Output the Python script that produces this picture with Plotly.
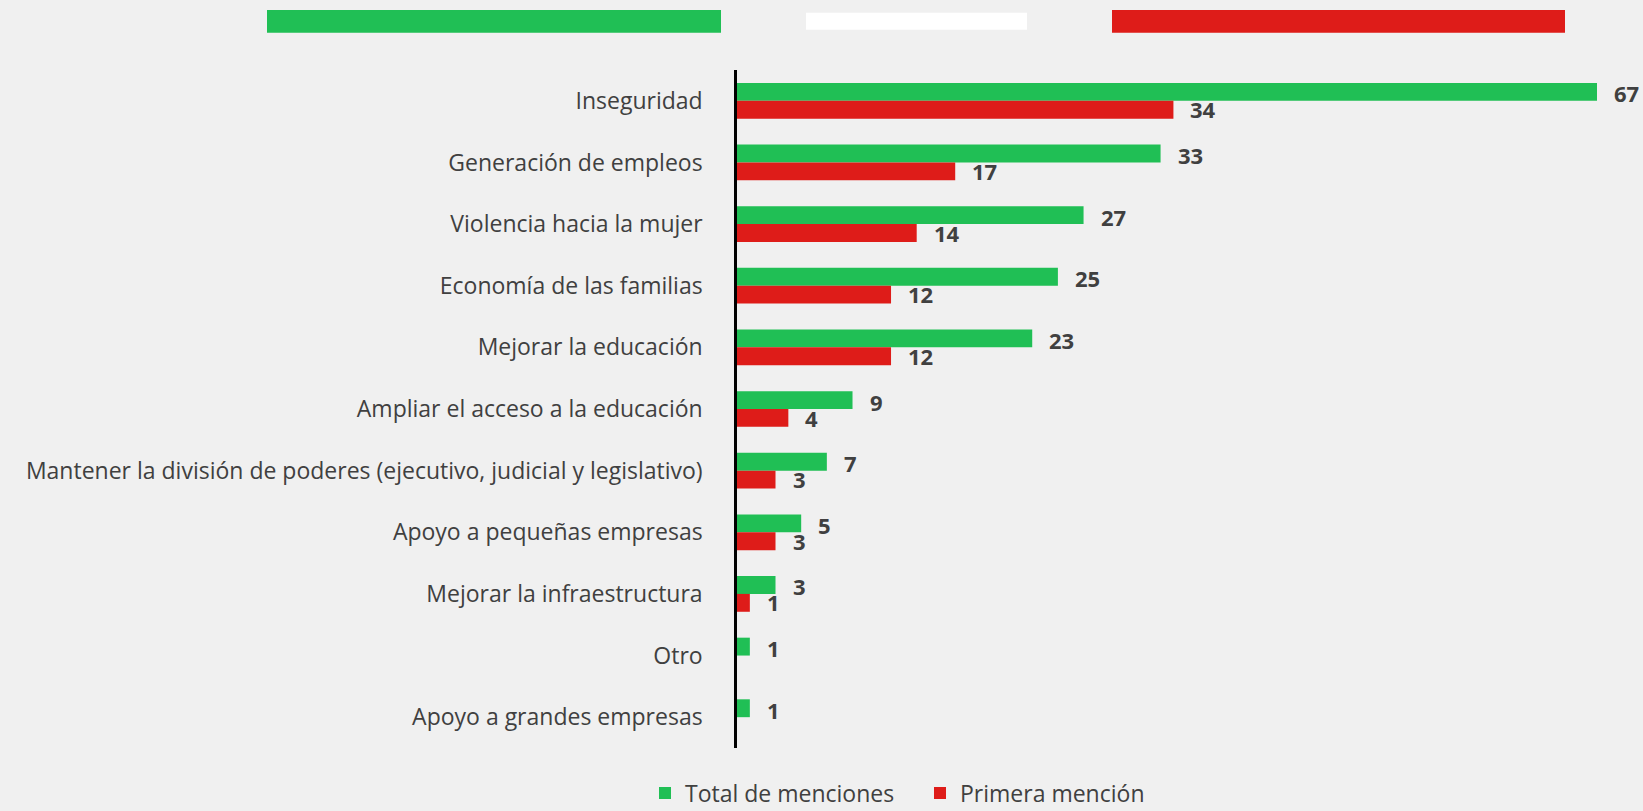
import plotly.graph_objects as go

categories = [
    "Inseguridad",
    "Generación de empleos",
    "Violencia hacia la mujer",
    "Economía de las familias",
    "Mejorar la educación",
    "Ampliar el acceso a la educación",
    "Mantener la división de poderes (ejecutivo, judicial y legislativo)",
    "Apoyo a pequeñas empresas",
    "Mejorar la infraestructura",
    "Otro",
    "Apoyo a grandes empresas",
]
total_menciones = [67, 33, 27, 25, 23, 9, 7, 5, 3, 1, 1]
primera_mencion = [34, 17, 14, 12, 12, 4, 3, 3, 1, None, None]

GREEN = "#20BF55"
RED = "#DE1C19"
BG = "#F0F0F0"
TXT = "#404040"
FONT = "Open Sans"

W, H = 1643, 811
ML, MR, MT, MB = 737, 0, 70, 63
PW, PH = W - ML - MR, H - MT - MB


def px_x(p):
    return (p - ML) / PW


def px_y(p):
    return (H - MB - p) / PH


fig = go.Figure()
fig.add_trace(go.Bar(
    y=categories, x=total_menciones, orientation="h", name="Total de menciones",
    marker=dict(color=GREEN, line=dict(width=0)),
))
fig.add_trace(go.Bar(
    y=categories, x=primera_mencion, orientation="h", name="Primera mención",
    marker=dict(color=RED, line=dict(width=0)),
))

annotations = []
for cat, v in zip(categories, total_menciones):
    if v is not None:
        annotations.append(dict(x=v, y=cat, text=f"<b>{v}</b>", showarrow=False,
                                xanchor="left", yanchor="middle", xshift=15, yshift=7.5,
                                font=dict(family=FONT, size=22, color=TXT)))
for cat, v in zip(categories, primera_mencion):
    if v is not None:
        annotations.append(dict(x=v, y=cat, text=f"<b>{v}</b>", showarrow=False,
                                xanchor="left", yanchor="middle", xshift=15, yshift=-8.5,
                                font=dict(family=FONT, size=22, color=TXT)))

shapes = [
    dict(type="rect", xref="paper", yref="paper", x0=px_x(267), x1=px_x(721),
         y0=px_y(32.7), y1=px_y(10), fillcolor=GREEN, line=dict(width=0)),
    dict(type="rect", xref="paper", yref="paper", x0=px_x(806), x1=px_x(1027),
         y0=px_y(29.7), y1=px_y(12.7), fillcolor="#FFFFFF", line=dict(width=0)),
    dict(type="rect", xref="paper", yref="paper", x0=px_x(1112), x1=px_x(1565),
         y0=px_y(32.7), y1=px_y(10), fillcolor=RED, line=dict(width=0)),
]

fig.update_layout(
    width=W, height=H,
    paper_bgcolor=BG, plot_bgcolor=BG,
    margin=dict(l=ML, r=MR, t=MT, b=MB, pad=0, autoexpand=False),
    barmode="group", bargap=0.42, bargroupgap=0,
    font=dict(family=FONT, color=TXT),
    annotations=annotations,
    shapes=shapes,
    showlegend=True,
    legend=dict(orientation="h", x=px_x(645), y=px_y(793), xanchor="left", yanchor="middle",
                font=dict(family=FONT, size=23, color=TXT), bgcolor="rgba(0,0,0,0)",
                itemwidth=30, traceorder="normal", entrywidth=230, entrywidthmode="pixels"),
    xaxis=dict(range=[0, PW / (860 / 67)], showgrid=False, zeroline=False,
               showticklabels=False, ticks="", showline=False, fixedrange=True),
    yaxis=dict(autorange="reversed", showgrid=False, zeroline=False, ticks="",
               showline=True, linecolor="black", linewidth=2.5,
               tickfont=dict(family=FONT, size=23, color=TXT), ticklabelstandoff=27),
)

fig.write_html(
    "out.html",
    config={"displayModeBar": False},
    post_script="document.body.style.margin='0';document.body.style.background='#F0F0F0';",
)
